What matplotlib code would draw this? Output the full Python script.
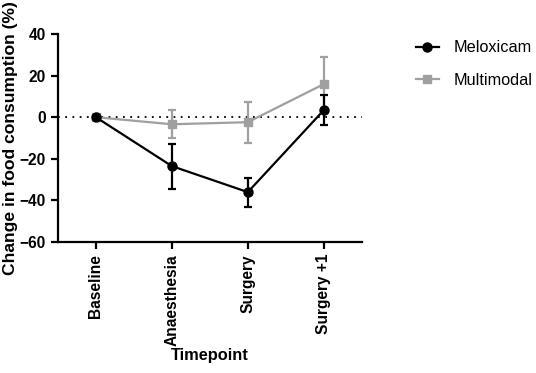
import matplotlib.pyplot as plt
import numpy as np

plt.rcParams.update({
    'font.family': 'Liberation Sans',
    'font.size': 11,
})

timepoints = ['Baseline', 'Anaesthesia', 'Surgery', 'Surgery +1']
melox_mean = [0, -23.5, -36, 3.4]
melox_err = [0, 10.8, 7, 7.2]
multi_mean = [0, -3.4, -2.4, 15.9]
multi_err = [0, 6.7, 9.8, 13]

fig = plt.figure(figsize=(5.36, 3.73), dpi=100)
ax = fig.add_axes([0.108, 0.351, 0.567, 0.558])

x = np.arange(len(timepoints))
ax.axhline(0, color='black', linestyle=(0, (1, 3)), linewidth=1.3, zorder=1)

multi = ax.errorbar(x, multi_mean, yerr=multi_err, color='#a0a0a0', marker='s',
                    markersize=6, linewidth=1.6, capsize=3, capthick=1.6,
                    elinewidth=1.6, zorder=2)
melox = ax.errorbar(x, melox_mean, yerr=melox_err, color='black', marker='o',
                    markersize=6.5, linewidth=1.6, capsize=3, capthick=1.6,
                    elinewidth=1.6, zorder=3)

ax.set_xlim(-0.5, 3.5)
ax.set_ylim(-60, 40)
ax.set_yticks([-60, -40, -20, 0, 20, 40])
ax.set_xticks(x)
ax.set_xticklabels(timepoints, rotation=90, fontweight='bold')
for lab in ax.get_yticklabels():
    lab.set_fontweight('bold')

for side in ['top', 'right']:
    ax.spines[side].set_visible(False)
for side in ['left', 'bottom']:
    ax.spines[side].set_linewidth(1.6)
ax.tick_params(width=1.6, length=5, labelsize=11.2)

ax.set_xlabel('Timepoint', fontweight='bold', fontsize=11.8, labelpad=2)
ax.set_ylabel('Change in food consumption (%)', fontweight='bold', fontsize=12.6,
              labelpad=1)

ax.legend([melox[0], multi[0]], ['Meloxicam', 'Multimodal'], loc='upper left',
          bbox_to_anchor=(1.13, 1.04), frameon=False, fontsize=11.7,
          handlelength=1.4, handletextpad=0.9, labelspacing=1.1)

fig.savefig('out.png', dpi=100)
